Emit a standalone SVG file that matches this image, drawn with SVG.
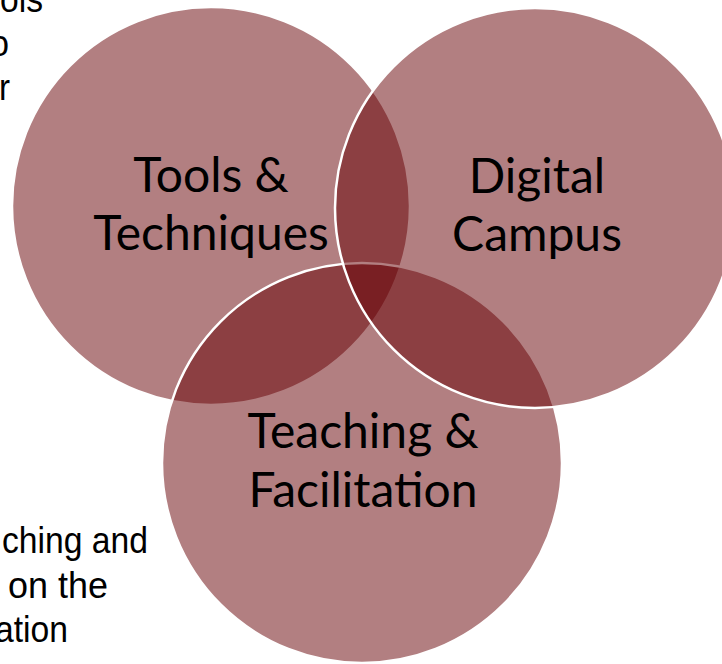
<svg xmlns="http://www.w3.org/2000/svg" width="722" height="664" viewBox="0 0 722 664">
  <style>
    .bg-text { font-family: "Liberation Sans", Arial, sans-serif; font-size: 37px; fill: #000000; }
    .set { fill: #660004; fill-opacity: 0.5; stroke: #ffffff; stroke-width: 2.5; }
    .label { font-family: Lato, "Open Sans", sans-serif; font-size: 48px; fill: #000000; text-anchor: middle; }
  </style>
  <rect width="722" height="664" fill="#ffffff"/>

  <!-- body text running off the left edge of the slide -->
  <g id="body-text">
    <text class="bg-text" x="0" y="12" textLength="43" lengthAdjust="spacingAndGlyphs">ols</text>
    <text class="bg-text" x="-10" y="56" textLength="19" lengthAdjust="spacingAndGlyphs">o</text>
    <text class="bg-text" x="-1" y="100" textLength="11" lengthAdjust="spacingAndGlyphs">r</text>
    <text class="bg-text" x="2" y="553" textLength="146" lengthAdjust="spacingAndGlyphs">ching and</text>
    <text class="bg-text" x="8" y="598" textLength="100" lengthAdjust="spacingAndGlyphs">on the</text>
    <text class="bg-text" x="-5" y="642" textLength="73" lengthAdjust="spacingAndGlyphs">ation</text>
  </g>

  <!-- three overlapping sets -->
  <g id="tools-techniques">
    <circle class="set" cx="211" cy="206" r="199"/>
  </g>
  <g id="teaching-facilitation">
    <circle class="set" cx="362" cy="463" r="200"/>
  </g>
  <g id="digital-campus">
    <circle class="set" cx="535" cy="208" r="200"/>
  </g>

  <!-- set labels -->
  <g id="labels">
    <text class="label" x="211" y="192">Tools &amp;</text>
    <text class="label" x="211" y="250">Techniques</text>
    <text class="label" x="537" y="193">Digital</text>
    <text class="label" x="537" y="251">Campus</text>
    <text class="label" x="363" y="448">Teaching &amp;</text>
    <text class="label" x="363" y="507">Facilitation</text>
  </g>
</svg>
